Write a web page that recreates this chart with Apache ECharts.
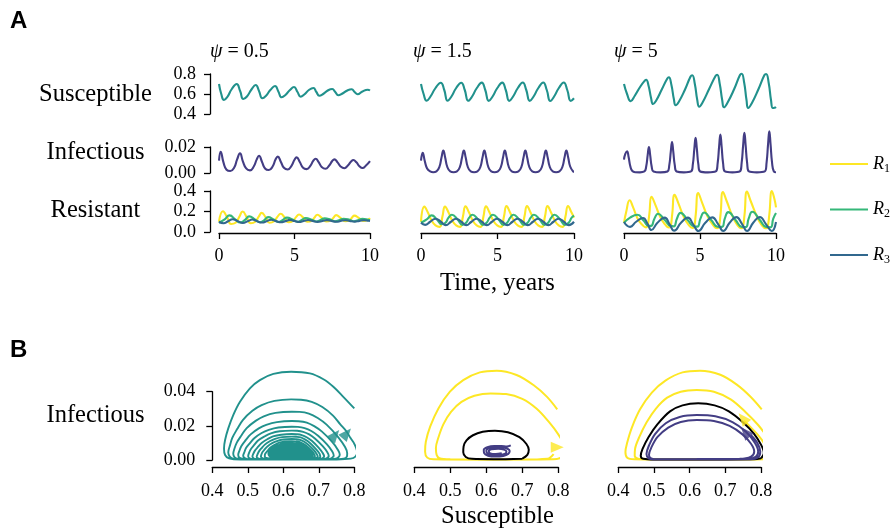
<!DOCTYPE html>
<html>
<head>
<meta charset="utf-8">
<script src="https://cdn.jsdelivr.net/npm/echarts@6/dist/echarts.min.js"></script>
<style>
  html, body { margin: 0; padding: 0; background: #ffffff; }
  #chart { width: 894px; height: 531px; }
</style>
</head>
<body>
<div id="chart"></div>
<script>
// ---------- labels ----------
const psiLabels = ['0.5', '1.5', '5'];
const rowNames = ['Susceptible', 'Infectious', 'Resistant'];
const resistantNames = ['R1', 'R2', 'R3'];

// ---------- time series, [time (years), fraction] ----------
// psi = 0.5
const sus05 = [[0,0.70],[0.15,0.60],[0.33,0.54],[0.55,0.57],[0.85,0.65],[1.17,0.70],[1.40,0.63],[1.61,0.55],[1.85,0.575],[2.15,0.645],[2.43,0.69],[2.65,0.63],[2.87,0.557],[3.1,0.58],[3.4,0.64],[3.71,0.68],[3.93,0.625],[4.15,0.567],[4.4,0.59],[4.7,0.64],[4.97,0.67],[5.2,0.62],[5.41,0.573],[5.65,0.595],[5.95,0.64],[6.25,0.66],[6.45,0.62],[6.64,0.583],[6.9,0.6],[7.2,0.635],[7.5,0.65],[7.7,0.62],[7.9,0.587],[8.15,0.602],[8.5,0.635],[8.79,0.647],[8.98,0.62],[9.18,0.597],[9.5,0.625],[9.85,0.643],[10,0.635]];
const inf05 = [[0,0.0095],[0.11,0.0164],[0.3,0.008],[0.5,0.0025],[0.75,0.0015],[1.0,0.004],[1.2,0.0105],[1.39,0.0151],[1.58,0.009],[1.8,0.0035],[2.05,0.002],[2.3,0.005],[2.5,0.0105],[2.65,0.0133],[2.85,0.0085],[3.05,0.0035],[3.3,0.0023],[3.55,0.005],[3.75,0.0105],[3.89,0.0126],[4.1,0.0085],[4.3,0.004],[4.55,0.0027],[4.8,0.0055],[5.0,0.0102],[5.14,0.012],[5.35,0.0085],[5.55,0.0043],[5.8,0.003],[6.05,0.0055],[6.25,0.0095],[6.4,0.011],[6.6,0.0083],[6.8,0.0047],[7.05,0.0033],[7.3,0.0058],[7.5,0.0092],[7.64,0.0105],[7.85,0.0082],[8.05,0.005],[8.3,0.0036],[8.55,0.006],[8.75,0.0089],[8.9,0.01],[9.1,0.0082],[9.3,0.0052],[9.5,0.0038],[9.75,0.006],[10,0.0092]];
const res1_05 = [[0,0.10],[0.26,0.203],[0.55,0.14],[0.8,0.078],[1.1,0.09],[1.35,0.15],[1.56,0.2],[1.85,0.14],[2.1,0.085],[2.4,0.1],[2.63,0.15],[2.83,0.187],[3.1,0.14],[3.35,0.09],[3.65,0.105],[3.88,0.15],[4.08,0.178],[4.35,0.14],[4.6,0.095],[4.9,0.108],[5.1,0.145],[5.3,0.171],[5.58,0.14],[5.85,0.1],[6.15,0.11],[6.33,0.142],[6.51,0.168],[6.8,0.138],[7.1,0.103],[7.4,0.112],[7.58,0.14],[7.76,0.165],[8.05,0.138],[8.35,0.105],[8.65,0.114],[8.8,0.14],[8.97,0.16],[9.25,0.138],[9.55,0.108],[9.85,0.118],[10,0.135]];
const res2_05 = [[0,0.09],[0.35,0.12],[0.7,0.162],[1.1,0.12],[1.4,0.092],[1.7,0.115],[2.0,0.152],[2.4,0.12],[2.7,0.095],[3.0,0.115],[3.25,0.145],[3.65,0.12],[3.95,0.098],[4.2,0.115],[4.5,0.14],[4.9,0.12],[5.2,0.1],[5.45,0.115],[5.75,0.136],[6.15,0.12],[6.45,0.102],[6.7,0.115],[7.0,0.133],[7.4,0.12],[7.7,0.104],[7.95,0.115],[8.25,0.13],[8.65,0.12],[8.95,0.105],[9.2,0.115],[9.5,0.128],[9.9,0.12],[10,0.117]];
const res3_05 = [[0,0.1],[0.3,0.086],[0.6,0.105],[0.9,0.125],[1.25,0.105],[1.58,0.088],[1.9,0.105],[2.2,0.122],[2.52,0.105],[2.85,0.092],[3.15,0.105],[3.45,0.12],[3.77,0.106],[4.1,0.095],[4.4,0.106],[4.7,0.118],[5.0,0.107],[5.32,0.097],[5.6,0.107],[5.9,0.117],[6.2,0.108],[6.53,0.099],[6.85,0.107],[7.15,0.116],[7.45,0.108],[7.78,0.1],[8.05,0.108],[8.35,0.115],[8.65,0.108],[8.98,0.101],[9.3,0.108],[9.6,0.114],[9.9,0.109],[10,0.107]];

// psi = 1.5
const sus15 = [[0,0.70],[0.17,0.6],[0.37,0.533],[0.6,0.57],[0.95,0.66],[1.29,0.713],[1.52,0.64],[1.74,0.533],[1.97,0.57],[2.3,0.66],[2.63,0.713],[2.86,0.64],[3.09,0.532],[3.32,0.57],[3.65,0.66],[3.97,0.714],[4.2,0.64],[4.43,0.531],[4.66,0.57],[4.99,0.66],[5.31,0.714],[5.54,0.64],[5.77,0.531],[6.0,0.57],[6.33,0.66],[6.65,0.715],[6.88,0.64],[7.11,0.531],[7.34,0.57],[7.67,0.66],[7.99,0.715],[8.22,0.64],[8.45,0.53],[8.68,0.57],[9.01,0.66],[9.33,0.715],[9.56,0.64],[9.79,0.53],[10,0.557]];
const inf15 = [[0,0.0095],[0.11,0.0156],[0.25,0.009],[0.4,0.0035],[0.6,0.0012],[0.8,0.0006],[1.01,0.0012],[1.21,0.005],[1.34,0.012],[1.46,0.0172],[1.58,0.012],[1.71,0.005],[1.91,0.0012],[2.13,0.0006],[2.35,0.0012],[2.55,0.005],[2.68,0.012],[2.8,0.0172],[2.92,0.012],[3.05,0.005],[3.25,0.0012],[3.47,0.0006],[3.69,0.0012],[3.89,0.005],[4.02,0.012],[4.14,0.0172],[4.26,0.012],[4.39,0.005],[4.59,0.0012],[4.81,0.0006],[5.03,0.0012],[5.23,0.005],[5.36,0.012],[5.48,0.0172],[5.6,0.012],[5.73,0.005],[5.93,0.0012],[6.15,0.0006],[6.37,0.0012],[6.57,0.005],[6.7,0.012],[6.82,0.0172],[6.94,0.012],[7.07,0.005],[7.27,0.0012],[7.49,0.0006],[7.71,0.0012],[7.91,0.005],[8.04,0.012],[8.16,0.0172],[8.28,0.012],[8.41,0.005],[8.61,0.0012],[8.83,0.0006],[9.05,0.0012],[9.25,0.005],[9.38,0.012],[9.5,0.0172],[9.62,0.012],[9.75,0.005],[9.95,0.0012],[10,0.001]];
const res1_15 = [[0,0.1],[0.22,0.248],[0.45,0.19],[0.7,0.11],[0.95,0.065],[1.22,0.05],[1.4,0.15],[1.57,0.248],[1.8,0.19],[2.05,0.11],[2.3,0.065],[2.56,0.05],[2.74,0.15],[2.91,0.25],[3.14,0.19],[3.39,0.11],[3.64,0.065],[3.9,0.05],[4.08,0.15],[4.25,0.25],[4.48,0.19],[4.73,0.11],[4.98,0.065],[5.24,0.05],[5.42,0.15],[5.59,0.252],[5.82,0.19],[6.07,0.11],[6.32,0.065],[6.58,0.05],[6.76,0.15],[6.93,0.252],[7.16,0.19],[7.41,0.11],[7.66,0.065],[7.92,0.05],[8.1,0.15],[8.27,0.252],[8.5,0.19],[8.75,0.11],[9.0,0.065],[9.26,0.05],[9.44,0.15],[9.61,0.252],[9.84,0.19],[10,0.14]];
const res2_15 = [[0,0.09],[0.35,0.12],[0.7,0.162],[1.05,0.12],[1.35,0.075],[1.6,0.09],[1.8,0.14],[2.02,0.168],[2.4,0.12],[2.7,0.07],[2.95,0.09],[3.15,0.14],[3.36,0.168],[3.74,0.12],[4.04,0.07],[4.29,0.09],[4.49,0.14],[4.7,0.168],[5.08,0.12],[5.38,0.07],[5.63,0.09],[5.83,0.14],[6.04,0.168],[6.42,0.12],[6.72,0.07],[6.97,0.09],[7.17,0.14],[7.38,0.168],[7.76,0.12],[8.06,0.07],[8.31,0.09],[8.51,0.14],[8.72,0.168],[9.1,0.12],[9.4,0.07],[9.65,0.09],[9.85,0.14],[10,0.16]];
const res3_15 = [[0,0.09],[0.27,0.07],[0.6,0.1],[0.95,0.13],[1.3,0.1],[1.62,0.067],[1.96,0.1],[2.29,0.13],[2.63,0.1],[2.96,0.067],[3.3,0.1],[3.63,0.13],[3.97,0.1],[4.3,0.067],[4.64,0.1],[4.97,0.13],[5.31,0.1],[5.64,0.067],[5.98,0.1],[6.31,0.13],[6.65,0.1],[6.98,0.067],[7.32,0.1],[7.65,0.13],[7.99,0.1],[8.32,0.067],[8.66,0.1],[8.99,0.13],[9.33,0.1],[9.66,0.067],[10,0.1]];

// psi = 5
const sus5 = [[0,0.70],[0.2,0.60],[0.44,0.527],[0.7,0.58],[1.1,0.68],[1.38,0.735],[1.46,0.743],[1.62,0.68],[1.78,0.56],[1.91,0.50],[2.1,0.53],[2.5,0.65],[2.85,0.755],[2.95,0.767],[3.12,0.69],[3.28,0.55],[3.4,0.487],[3.6,0.52],[4.0,0.64],[4.38,0.775],[4.49,0.787],[4.66,0.7],[4.82,0.54],[4.95,0.473],[5.15,0.51],[5.6,0.65],[6.02,0.78],[6.13,0.793],[6.3,0.7],[6.46,0.54],[6.58,0.467],[6.8,0.51],[7.25,0.65],[7.63,0.79],[7.74,0.803],[7.91,0.71],[8.06,0.54],[8.17,0.46],[8.4,0.505],[8.85,0.65],[9.24,0.79],[9.35,0.80],[9.52,0.71],[9.67,0.54],[9.79,0.46],[9.9,0.462],[10,0.47]];
const inf5 = [[0,0.0103],[0.08,0.0145],[0.2,0.0167],[0.3,0.0125],[0.42,0.005],[0.55,0.0015],[0.75,0.0006],[1.05,0.0005],[1.34,0.0012],[1.46,0.005],[1.56,0.014],[1.64,0.020],[1.72,0.014],[1.82,0.005],[1.94,0.0012],[2.4,0.0005],[2.86,0.0012],[2.98,0.006],[3.08,0.0167],[3.16,0.0238],[3.24,0.0167],[3.34,0.006],[3.46,0.0012],[3.94,0.0005],[4.41,0.0012],[4.53,0.0068],[4.63,0.0189],[4.71,0.027],[4.79,0.0189],[4.89,0.0068],[5.01,0.0012],[5.52,0.0005],[6.04,0.0012],[6.16,0.0074],[6.26,0.0207],[6.34,0.0295],[6.42,0.0207],[6.52,0.0074],[6.64,0.0012],[7.13,0.0005],[7.62,0.0012],[7.74,0.0078],[7.84,0.0217],[7.92,0.031],[8.0,0.0217],[8.1,0.0078],[8.22,0.0012],[8.74,0.0005],[9.26,0.0012],[9.38,0.008],[9.48,0.0224],[9.56,0.032],[9.64,0.0224],[9.74,0.008],[9.86,0.0012],[10,0.0006]];
const res1_5 = [[0,0.089],[0.15,0.2],[0.37,0.31],[0.6,0.24],[0.9,0.13],[1.2,0.07],[1.45,0.045],[1.55,0.06],[1.67,0.18],[1.81,0.343],[2.05,0.27],[2.4,0.14],[2.7,0.075],[2.95,0.045],[3.05,0.05],[3.17,0.17],[3.33,0.362],[3.58,0.28],[3.95,0.14],[4.25,0.07],[4.5,0.04],[4.6,0.045],[4.72,0.17],[4.88,0.38],[5.13,0.29],[5.5,0.15],[5.85,0.07],[6.13,0.038],[6.23,0.045],[6.35,0.17],[6.51,0.39],[6.76,0.3],[7.15,0.15],[7.45,0.07],[7.7,0.037],[7.81,0.045],[7.93,0.17],[8.09,0.394],[8.34,0.3],[8.75,0.15],[9.05,0.07],[9.33,0.036],[9.44,0.045],[9.56,0.17],[9.73,0.40],[9.9,0.32],[10,0.24]];
const res2_5 = [[0,0.089],[0.4,0.14],[0.88,0.168],[1.3,0.11],[1.6,0.06],[1.78,0.06],[2.0,0.13],[2.24,0.178],[2.7,0.115],[3.05,0.06],[3.28,0.055],[3.48,0.13],[3.72,0.187],[4.2,0.115],[4.6,0.055],[4.83,0.052],[5.03,0.13],[5.27,0.19],[5.75,0.115],[6.15,0.052],[6.45,0.05],[6.63,0.13],[6.86,0.194],[7.35,0.115],[7.75,0.05],[8.02,0.048],[8.2,0.13],[8.44,0.197],[8.95,0.115],[9.35,0.05],[9.65,0.047],[9.82,0.13],[10,0.185]];
const res3_5 = [[0,0.098],[0.4,0.05],[0.8,0.1],[1.25,0.137],[1.55,0.08],[1.8,0.019],[2.2,0.09],[2.68,0.14],[3.0,0.075],[3.3,0.013],[3.75,0.09],[4.2,0.14],[4.55,0.075],[4.9,0.01],[5.35,0.09],[5.81,0.143],[6.2,0.075],[6.53,0.01],[6.95,0.09],[7.39,0.145],[7.78,0.075],[8.1,0.01],[8.5,0.09],[8.93,0.146],[9.35,0.075],[9.72,0.01],[10,0.098]];

// ---------- phase trajectories, [susceptible, infectious] ----------
const phase05 = [[0.800,0.0302],[0.769,0.0370],[0.741,0.0429],[0.713,0.0473],[0.675,0.0507],[0.622,0.0517],[0.572,0.0504],[0.534,0.0468],[0.506,0.0420],[0.478,0.0341],[0.459,0.0263],[0.445,0.0185],[0.436,0.0117],[0.433,0.0068],[0.436,0.0029],[0.447,0.0010],[0.480,0.0003],[0.600,0.0002],[0.750,0.0003],[0.790,0.0008],[0.803,0.0020],
 [0.808,0.0045],[0.800,0.0095],[0.789,0.0130],[0.778,0.0167],[0.760,0.0210],[0.740,0.0260],[0.710,0.0310],[0.680,0.0340],[0.650,0.0353],[0.622,0.0355],[0.575,0.0346],[0.539,0.0321],[0.513,0.0288],[0.486,0.0234],[0.470,0.0181],[0.456,0.0128],[0.449,0.0080],[0.445,0.0046],[0.449,0.0020],[0.458,0.0008],[0.490,0.0003],[0.620,0.0002],[0.740,0.0003],[0.770,0.0008],[0.779,0.0020],
 [0.780,0.0040],[0.774,0.0076],[0.755,0.0133],[0.722,0.0207],[0.697,0.0246],[0.672,0.0272],[0.646,0.0282],[0.624,0.0283],[0.578,0.0276],[0.545,0.0256],[0.522,0.0229],[0.497,0.0187],[0.482,0.0144],[0.469,0.0102],[0.462,0.0064],[0.459,0.0037],[0.463,0.0016],[0.472,0.0007],[0.500,0.0003],[0.620,0.0002],[0.720,0.0003],[0.748,0.0008],[0.757,0.0020],
 [0.759,0.0032],[0.753,0.0062],[0.737,0.0107],[0.709,0.0166],[0.687,0.0198],[0.666,0.0219],[0.643,0.0227],[0.624,0.0228],[0.582,0.0222],[0.552,0.0206],[0.531,0.0185],[0.508,0.0150],[0.494,0.0116],[0.482,0.0082],[0.476,0.0052],[0.473,0.0030],[0.477,0.0013],[0.487,0.0006],[0.520,0.0003],[0.620,0.0002],[0.710,0.0003],[0.733,0.0008],[0.741,0.0020],
 [0.742,0.0027],[0.737,0.0053],[0.723,0.0092],[0.698,0.0142],[0.679,0.0170],[0.660,0.0187],[0.641,0.0194],[0.624,0.0195],[0.586,0.0190],[0.559,0.0176],[0.539,0.0158],[0.519,0.0129],[0.506,0.0099],[0.495,0.0070],[0.490,0.0044],[0.487,0.0025],[0.491,0.0011],[0.500,0.0005],[0.530,0.0003],[0.620,0.0002],[0.700,0.0003],[0.720,0.0008],[0.727,0.0018],
 [0.728,0.0024],[0.724,0.0046],[0.711,0.0081],[0.689,0.0126],[0.673,0.0150],[0.656,0.0165],[0.639,0.0171],[0.624,0.0172],[0.590,0.0168],[0.565,0.0156],[0.548,0.0139],[0.529,0.0114],[0.518,0.0088],[0.508,0.0062],[0.503,0.0039],[0.501,0.0022],[0.505,0.0010],[0.515,0.0005],[0.540,0.0003],[0.620,0.0002],[0.690,0.0003],[0.708,0.0008],[0.714,0.0017],
 [0.715,0.0021],[0.711,0.0041],[0.700,0.0071],[0.681,0.0111],[0.667,0.0132],[0.652,0.0146],[0.637,0.0151],[0.624,0.0152],[0.594,0.0148],[0.571,0.0138],[0.556,0.0123],[0.539,0.0100],[0.529,0.0078],[0.520,0.0055],[0.515,0.0034],[0.513,0.0020],[0.517,0.0009],[0.526,0.0005],[0.550,0.0003],[0.620,0.0002],[0.680,0.0003],[0.698,0.0008],[0.704,0.0016],
 [0.705,0.0019],[0.702,0.0037],[0.692,0.0064],[0.675,0.0100],[0.662,0.0119],[0.649,0.0132],[0.636,0.0136],[0.624,0.0137],[0.597,0.0134],[0.577,0.0124],[0.563,0.0111],[0.548,0.0090],[0.539,0.0070],[0.531,0.0049],[0.527,0.0031],[0.525,0.0018],[0.529,0.0009],[0.538,0.0005],[0.560,0.0004],[0.620,0.0004],[0.675,0.0005],[0.690,0.0009],[0.696,0.0016],
 [0.697,0.0020],[0.694,0.0035],[0.686,0.0058],[0.670,0.0090],[0.659,0.0107],[0.647,0.0118],[0.635,0.0122],[0.624,0.0123],[0.600,0.0120],[0.582,0.0111],[0.570,0.0100],[0.556,0.0081],[0.548,0.0063],[0.541,0.0045],[0.538,0.0030],[0.537,0.0019],[0.541,0.0011],[0.549,0.0007],[0.570,0.0006],[0.620,0.0006],[0.668,0.0007],[0.682,0.0011],[0.688,0.0017],
 [0.689,0.0022],[0.687,0.0033],[0.680,0.0053],[0.666,0.0080],[0.655,0.0096],[0.645,0.0106],[0.634,0.0109],[0.624,0.0110],[0.602,0.0107],[0.587,0.0100],[0.576,0.0089],[0.564,0.0073],[0.557,0.0057],[0.551,0.0042],[0.548,0.0029],[0.548,0.0019],[0.552,0.0012],[0.560,0.0009],[0.580,0.0008],[0.620,0.0008],[0.662,0.0009],[0.676,0.0013],[0.682,0.0019],
 [0.683,0.0037],[0.6714,0.0071],[0.6511,0.0093],[0.625,0.0099],[0.5948,0.0093],[0.5714,0.0071],[0.558,0.0037],[0.568,0.0013],[0.625,0.0010],[0.6743,0.0013],
 [0.6795,0.0036],[0.6686,0.0068],[0.6495,0.0089],[0.625,0.0095],[0.5966,0.0089],[0.5746,0.0068],[0.562,0.0036],[0.5714,0.0014],[0.625,0.0011],[0.6713,0.0014],
 [0.676,0.0036],[0.6658,0.0066],[0.648,0.0085],[0.625,0.0091],[0.5984,0.0085],[0.5778,0.0066],[0.566,0.0036],[0.5748,0.0014],[0.625,0.0012],[0.6684,0.0014],
 [0.6725,0.0035],[0.663,0.0063],[0.6464,0.0082],[0.625,0.0087],[0.6002,0.0082],[0.581,0.0063],[0.570,0.0035],[0.5782,0.0015],[0.625,0.0013],[0.6654,0.0015],
 [0.669,0.0035],[0.6602,0.0061],[0.6448,0.0078],[0.625,0.0083],[0.602,0.0078],[0.5842,0.0061],[0.574,0.0035],[0.5816,0.0016],[0.625,0.0014],[0.6624,0.0016],
 [0.6655,0.0035],[0.6574,0.0059],[0.6432,0.0075],[0.625,0.0079],[0.6038,0.0075],[0.5874,0.0059],[0.578,0.0035],[0.585,0.0018],[0.625,0.0016],[0.6594,0.0018],
 [0.662,0.0035],[0.6546,0.0057],[0.6417,0.0071],[0.625,0.0075],[0.6056,0.0071],[0.5906,0.0057],[0.582,0.0035],[0.5884,0.0020],[0.625,0.0018],[0.6565,0.0020],
 [0.6585,0.0035],[0.6518,0.0055],[0.6401,0.0067],[0.625,0.0071],[0.6074,0.0067],[0.5938,0.0055],[0.586,0.0035],[0.5918,0.0022],[0.625,0.0020],[0.6535,0.0022],
 [0.655,0.0036],[0.649,0.0053],[0.6385,0.0064],[0.625,0.0067],[0.6092,0.0064],[0.597,0.0053],[0.590,0.0036],[0.5952,0.0024],[0.625,0.0022],[0.6505,0.0024],
 [0.6515,0.0036],[0.6462,0.0051],[0.6369,0.0060],[0.625,0.0063],[0.611,0.0060],[0.6002,0.0051],[0.594,0.0036],[0.5986,0.0026],[0.625,0.0025],[0.6475,0.0026],
 [0.648,0.0037],[0.6434,0.0049],[0.6354,0.0057],[0.625,0.0059],[0.6128,0.0057],[0.6034,0.0049],[0.598,0.0037],[0.602,0.0029],[0.625,0.0028],[0.6446,0.0029],
 [0.6445,0.0038],[0.6406,0.0047],[0.6338,0.0053],[0.625,0.0055],[0.6146,0.0053],[0.6066,0.0047],[0.602,0.0038],[0.6054,0.0032],[0.625,0.0031],[0.6416,0.0032],
 [0.641,0.0039],[0.6378,0.0045],[0.6322,0.0050],[0.625,0.0051],[0.6165,0.0050],[0.6098,0.0045],[0.606,0.0039],[0.609,0.0035],[0.625,0.0034],[0.638,0.0035],
 [0.6375,0.0040],[0.635,0.0044],[0.6306,0.0047],[0.625,0.0048],[0.6183,0.0047],[0.613,0.0044],[0.610,0.0040],[0.6125,0.0037],[0.625,0.0036],[0.634,0.0037],
 [0.634,0.0040],[0.630,0.0044],[0.625,0.0045],[0.619,0.0044],[0.614,0.0041],[0.617,0.0038],[0.625,0.0038],[0.631,0.0039]];

const phase15Outer = [[0.797,0.0297],[0.768,0.0371],[0.731,0.0439],[0.684,0.0498],[0.629,0.0523],[0.582,0.0513],[0.536,0.0468],[0.499,0.0400],[0.467,0.0302],[0.444,0.0195],[0.432,0.0107],[0.430,0.0049],[0.436,0.0014],[0.453,0.0004],[0.600,0.0002],[0.786,0.0004],[0.809,0.0016],[0.818,0.0045],
 [0.815,0.0090],[0.800,0.0150],[0.775,0.0220],[0.740,0.0300],[0.700,0.0358],[0.655,0.0386],[0.612,0.0390],[0.567,0.0376],[0.531,0.0340],[0.502,0.0282],[0.481,0.0210],[0.467,0.0132],[0.460,0.0070],[0.462,0.0030],[0.470,0.0010],[0.500,0.0004],[0.700,0.0003],[0.770,0.0008],[0.787,0.0035]];
const phase15Cycle = [[0.700,0.0008],[0.714,0.0030],[0.718,0.0060],[0.711,0.0095],[0.692,0.0134],[0.660,0.0163],[0.624,0.0172],[0.590,0.0165],[0.563,0.0145],[0.545,0.0115],[0.537,0.0080],[0.536,0.0045],[0.543,0.0018],[0.560,0.0007],[0.620,0.0005],[0.700,0.0008]];
const phase15Inner = [[0.668,0.0086],[0.657,0.0079],[0.642,0.0082],[0.622,0.0082],[0.603,0.0075],[0.593,0.0060],[0.594,0.0040],[0.605,0.0025],[0.625,0.0020],[0.647,0.0024],[0.661,0.0036],[0.665,0.0052],[0.659,0.0066],[0.643,0.0074],[0.624,0.0075],[0.606,0.0068],[0.600,0.0054],[0.603,0.0039],[0.615,0.0030],[0.634,0.0029],[0.651,0.0036],[0.656,0.0049],[0.649,0.0061],[0.633,0.0066],[0.614,0.0063],[0.607,0.0051],[0.611,0.0039],[0.626,0.0035],[0.643,0.0040]];

const phase5Outer = [[0.802,0.0297],[0.770,0.0372],[0.733,0.0440],[0.686,0.0499],[0.629,0.0523],[0.580,0.0513],[0.533,0.0466],[0.494,0.0395],[0.461,0.0297],[0.438,0.0190],[0.425,0.0102],[0.420,0.0047],[0.425,0.0013],[0.445,0.0004],[0.600,0.0002],[0.800,0.0004],[0.822,0.0015],[0.830,0.0045],
 [0.827,0.0090],[0.815,0.0140],[0.792,0.0205],[0.757,0.0280],[0.715,0.0355],[0.668,0.0400],[0.620,0.0410],[0.575,0.0400],[0.537,0.0365],[0.505,0.0300],[0.479,0.0220],[0.459,0.0135],[0.447,0.0065],[0.446,0.0025],[0.455,0.0008],[0.480,0.0003],[0.700,0.0003],[0.805,0.0005],[0.818,0.0020],
 [0.818,0.0050],[0.808,0.0100],[0.790,0.0150],[0.765,0.0205],[0.752,0.0230]];
const phase5Cycle = [[0.800,0.0010],[0.808,0.0040],[0.800,0.0090],[0.780,0.0155],[0.750,0.0220],[0.710,0.0285],[0.670,0.0320],[0.624,0.0332],[0.580,0.0320],[0.545,0.0285],[0.510,0.0210],[0.485,0.0135],[0.468,0.0065],[0.463,0.0025],[0.470,0.0007],[0.500,0.0003],[0.620,0.0003],[0.780,0.0004],[0.800,0.0010]];
const phase5Inner = [[0.620,0.0006],[0.740,0.0007],[0.772,0.0020],[0.781,0.0050],[0.772,0.0095],[0.748,0.0150],[0.712,0.0200],[0.668,0.0228],[0.620,0.0234],[0.575,0.0223],[0.540,0.0190],[0.510,0.0135],[0.493,0.0075],[0.486,0.0030],[0.492,0.0010],[0.510,0.0004],[0.620,0.0004],[0.760,0.0005],[0.785,0.0018],[0.792,0.0050],[0.783,0.0100],[0.758,0.0165],[0.720,0.0222],[0.672,0.0256],[0.620,0.0263],[0.572,0.0252],[0.533,0.0215],[0.503,0.0152],[0.486,0.0085],[0.479,0.0035],[0.485,0.0010],[0.505,0.0003],[0.620,0.0003],[0.770,0.0004],[0.792,0.0016],[0.798,0.0050],[0.790,0.0100],[0.772,0.0145]];

// direction markers on the trajectories: [S, I]
const arrows05 = [[0.7456,0.0146],[0.7786,0.0156]];
const arrows15 = [[0.797,0.0074]];
const arrows5Outer = [[0.749,0.0244]];
const arrows5Inner = [[0.756,0.0163]];

// ---------- styling ----------
const COL_S = '#21918c', COL_I = '#433d84';
const COL_R = { R1: '#fde725', R2: '#35b779', R3: '#31688e' };
const SERIF = '"Liberation Serif", "DejaVu Serif", serif';
const AXIS_STYLE = { color: '#000', width: 1.3 };

const colLeftA = [219, 421, 624];
const colWidthA = [151, 153, 152];
const rowsA = [
  { top: 74,  height: 40, min: 0.4, max: 0.8,  interval: 0.2,  dec: 1 },
  { top: 147, height: 26, min: 0,   max: 0.02, interval: 0.02, dec: 2 },
  { top: 191, height: 41, min: 0,   max: 0.4,  interval: 0.2,  dec: 1 }
];
const colLeftB = [212.3, 414.3, 618.3];
const colWidthB = [142, 144, 142.7];

const grids = [], xAxes = [], yAxes = [], series = [];

function tickLabel(dec, margin) {
  return { fontFamily: SERIF, fontSize: 18, color: '#000', margin: margin, formatter: v => v.toFixed(dec) };
}
function axisBase() {
  return {
    axisLine: { show: true, onZero: false, lineStyle: AXIS_STYLE },
    axisTick: { show: true, length: 6, lineStyle: AXIS_STYLE },
    splitLine: { show: false }
  };
}

// panel A: 3 columns x 3 rows
for (let c = 0; c < 3; c++) {
  for (let r = 0; r < 3; r++) {
    const g = grids.length;
    const row = rowsA[r];
    grids.push({ left: colLeftA[c], top: row.top, width: colWidthA[c], height: row.height });
    xAxes.push(Object.assign(axisBase(), {
      gridIndex: g, type: 'value', min: 0, max: 10, interval: 5, show: r === 2, offset: 1,
      axisLabel: tickLabel(0, 14.5)
    }));
    yAxes.push(Object.assign(axisBase(), {
      gridIndex: g, type: 'value', min: row.min, max: row.max, interval: row.interval,
      show: c === 0, offset: 9, axisLabel: tickLabel(row.dec, 14)
    }));
  }
}
// panel B: 3 phase planes
for (let c = 0; c < 3; c++) {
  const g = grids.length;
  grids.push({ left: colLeftB[c], top: 391.7, width: colWidthB[c], height: 68.3 });
  xAxes.push(Object.assign(axisBase(), {
    gridIndex: g, type: 'value', min: 0.4, max: 0.8, interval: 0.1, offset: 7,
    axisLabel: tickLabel(1, 15.5)
  }));
  yAxes.push(Object.assign(axisBase(), {
    gridIndex: g, type: 'value', min: 0, max: 0.04, interval: 0.02, show: c === 0, offset: 0,
    axisLabel: tickLabel(2, 17)
  }));
}

function addLine(name, data, color, grid, opts) {
  series.push(Object.assign({
    name: name, type: 'line', data: data, xAxisIndex: grid, yAxisIndex: grid,
    showSymbol: false, symbol: 'none', clip: false, smooth: 0.35,
    lineStyle: { color: color, width: 2 }, itemStyle: { color: color },
    emphasis: { disabled: true }, z: 2
  }, opts || {}));
}
function addArrows(data, color, grid, rotate) {
  series.push({
    type: 'scatter', data: data, xAxisIndex: grid, yAxisIndex: grid,
    symbol: 'triangle', symbolSize: [11, 13], symbolRotate: rotate, clip: false,
    itemStyle: { color: color }, emphasis: { disabled: true }, z: 4
  });
}

const timeData = [
  { S: sus05, I: inf05, R1: res1_05, R2: res2_05, R3: res3_05 },
  { S: sus15, I: inf15, R1: res1_15, R2: res2_15, R3: res3_15 },
  { S: sus5,  I: inf5,  R1: res1_5,  R2: res2_5,  R3: res3_5 }
];
timeData.forEach((d, c) => {
  const opt = color => ({ smooth: 0.5, lineStyle: { color: color, width: 2.1 } });
  addLine('Susceptible', d.S, COL_S, c * 3, opt(COL_S));
  addLine('Infectious', d.I, COL_I, c * 3 + 1, opt(COL_I));
  resistantNames.forEach(n => addLine(n, d[n], COL_R[n], c * 3 + 2, opt(COL_R[n])));
});

// phase planes
addLine('trajectory', phase05, COL_S, 9, { lineStyle: { color: COL_S, width: 1.9 } });
addArrows(arrows05, COL_S, 9, -40);
addLine('trajectory', phase15Outer, COL_R.R1, 10);
addLine('limit cycle', phase15Cycle, '#000', 10);
addLine('trajectory', phase15Inner, COL_I, 10);
addArrows(arrows15, COL_R.R1, 10, -90);
addLine('trajectory', phase5Outer, COL_R.R1, 11);
addLine('limit cycle', phase5Cycle, '#000', 11);
addLine('trajectory', phase5Inner, COL_I, 11);
addArrows(arrows5Outer, COL_R.R1, 11, 40);
addArrows(arrows5Inner, COL_I, 11, 40);

// text labels
const textEls = [];
function addText(x, y, text, opts) {
  textEls.push({
    type: 'text', x: x, y: y, silent: true,
    style: Object.assign({ text: text, fill: '#000', font: '24.5px ' + SERIF, align: 'center', verticalAlign: 'middle' }, opts || {})
  });
}
addText(10, 21, 'A', { font: 'bold 24px "Liberation Sans", Arial, sans-serif', align: 'left' });
addText(10, 350, 'B', { font: 'bold 24px "Liberation Sans", Arial, sans-serif', align: 'left' });
[210, 413, 614].forEach((x, i) => {
  addText(x, 52, '{i|ψ} = ' + psiLabels[i], {
    align: 'left', font: '20px ' + SERIF,
    rich: { i: { fontStyle: 'italic', fontSize: 20, fontFamily: SERIF } }
  });
});
addText(95.5, 95, rowNames[0]);
addText(95.5, 153, rowNames[1]);
addText(95.5, 211, rowNames[2]);
addText(497.5, 284, 'Time, years');
addText(95.5, 416, 'Infectious');
addText(497.5, 517, 'Susceptible');

const chart = echarts.init(document.getElementById('chart'), null, { renderer: 'canvas' });
chart.setOption({
  animation: false,
  backgroundColor: '#ffffff',
  grid: grids,
  xAxis: xAxes,
  yAxis: yAxes,
  series: series,
  legend: {
    data: resistantNames, orient: 'vertical', left: 824, top: 150,
    itemWidth: 38, itemHeight: 20, itemGap: 26, selectedMode: false,
    itemStyle: { opacity: 0 },
    lineStyle: { width: 2 },
    formatter: n => '{r|R}{s|' + n.slice(1) + '}',
    textStyle: {
      color: '#000',
      rich: {
        r: { fontFamily: SERIF, fontStyle: 'italic', fontSize: 18, color: '#000' },
        s: { fontFamily: SERIF, fontSize: 12, color: '#000', padding: [9, 0, 0, 0] }
      }
    }
  },
  graphic: textEls
});
</script>
</body>
</html>
